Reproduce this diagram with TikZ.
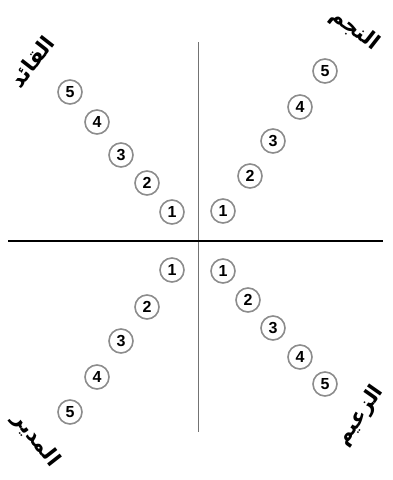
\documentclass[tikz,border=0pt]{standalone}
\usepackage{fontspec}
\setmainfont{Liberation Sans}
\newfontfamily\arabicfont[Script=Arabic]{DejaVu Sans}
\TeXXeTstate=1
\usetikzlibrary{positioning}

\begin{document}
\begin{tikzpicture}[
  x=1pt,y=-1pt,
  rank/.style={
    circle,
    draw=black!45,
    line width=1.6pt,
    minimum size=24pt,
    inner sep=0pt,
    font=\bfseries\fontsize{16}{16}\selectfont
  },
  axisv/.style={draw=black!55, line width=1pt},
  axish/.style={draw=black, line width=2pt},
  role/.style={font=\arabicfont\bfseries\fontsize{21}{21}\selectfont, text=black},
]

% canvas
\useasboundingbox (0,0) rectangle (392,480);

% Axes
\coordinate (Vtop) at (198,42);
\coordinate (Vbot) at (198,432);
\coordinate (Hleft) at (8,241);
\coordinate (Hright) at (383,241);
\draw[axisv] (Vtop) -- (Vbot);
\draw[axish] (Hleft) -- (Hright);

% Top-left chain
\node[rank] (tl1) at (172,212) {1};
\node[rank] (tl2) at (147,183) {2};
\node[rank] (tl3) at (121,155) {3};
\node[rank] (tl4) at (97,122) {4};
\node[rank] (tl5) at (70,92) {5};

% Top-right chain
\node[rank] (tr1) at (223,211) {1};
\node[rank] (tr2) at (250,176) {2};
\node[rank] (tr3) at (273,141) {3};
\node[rank] (tr4) at (300,107) {4};
\node[rank] (tr5) at (325,71) {5};

% Bottom-left chain
\node[rank] (bl1) at (172,270) {1};
\node[rank] (bl2) at (147,307) {2};
\node[rank] (bl3) at (121,341) {3};
\node[rank] (bl4) at (97,377) {4};
\node[rank] (bl5) at (70,412) {5};

% Bottom-right chain
\node[rank] (br1) at (223,271) {1};
\node[rank] (br2) at (248,300) {2};
\node[rank] (br3) at (273,328) {3};
\node[rank] (br4) at (300,357) {4};
\node[rank] (br5) at (325,384) {5};

% Corner titles
\node[role, rotate=52] (leader) at (32,62) {\beginR القائد\endR};
\node[role, rotate=-38] (star) at (355,30) {\beginR النجم\endR};
\node[role, rotate=-52] (manager) at (36,440) {\beginR المدير\endR};
\node[role, rotate=55] (chief) at (360,416) {\beginR الزعيم\endR};

\end{tikzpicture}
\end{document}
